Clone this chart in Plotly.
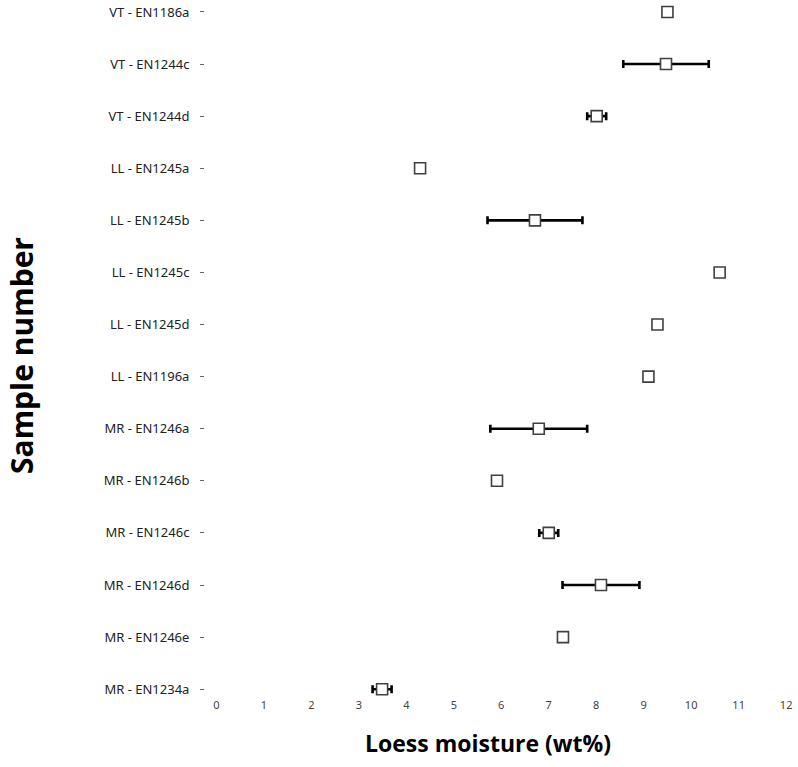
import plotly.graph_objects as go

# Samples listed top to bottom as they appear on the chart
samples = [
    "VT - EN1186a", "VT - EN1244c", "VT - EN1244d",
    "LL - EN1245a", "LL - EN1245b", "LL - EN1245c", "LL - EN1245d", "LL - EN1196a",
    "MR - EN1246a", "MR - EN1246b", "MR - EN1246c", "MR - EN1246d", "MR - EN1246e",
    "MR - EN1234a",
]
moisture = [9.5, 9.47, 8.01, 4.29, 6.71, 10.6, 9.29, 9.1, 6.79, 5.91, 7.0, 8.1, 7.3, 3.49]
moisture_err = [0, 0.9, 0.2, 0, 1.0, 0, 0, 0, 1.02, 0, 0.2, 0.81, 0, 0.2]
x_ticks = list(range(0, 13))

W, H = 798, 767
plot_left, plot_right = 205, 798
plot_top, plot_bottom = 0, 697

fig = go.Figure(
    go.Scatter(
        x=moisture,
        y=samples,
        mode="markers",
        marker=dict(symbol="square", size=11, color="white",
                    line=dict(color="#404040", width=1.6)),
        error_x=dict(type="data", array=moisture_err, visible=True,
                     color="black", thickness=2.6, width=4),
        showlegend=False,
    )
)

fig.update_xaxes(
    range=[-0.24, 12.25],
    tickvals=x_ticks,
    ticktext=[str(v) for v in x_ticks],
    showgrid=False, zeroline=False, showline=False,
    ticks="", tickfont=dict(family="Noto Sans", size=11, color="#444444"),
)
fig.update_yaxes(
    type="category",
    categoryorder="array",
    categoryarray=samples[::-1],
    range=[-0.15, 13.23],
    showgrid=False, zeroline=False, showline=False,
    ticks="outside", ticklen=4, tickcolor="#666666", tickwidth=1,
    ticklabelstandoff=8,
    tickfont=dict(family="Noto Sans", size=13, color="#222222"),
)

pw = plot_right - plot_left
ph = plot_bottom - plot_top
fig.add_annotation(
    text="<b>Loess moisture (wt%)</b>", xref="paper", yref="paper",
    x=(488 - plot_left) / pw, y=(plot_bottom - 743) / ph,
    xanchor="center", yanchor="middle", showarrow=False,
    font=dict(family="Open Sans", size=23, color="black"),
)
fig.add_annotation(
    text="<b>Sample number</b>", xref="paper", yref="paper",
    x=(22 - plot_left) / pw, y=(plot_bottom - 355) / ph,
    xanchor="center", yanchor="middle", showarrow=False, textangle=-90,
    font=dict(family="Open Sans", size=30, color="black"),
)

fig.update_layout(
    width=W, height=H,
    margin=dict(l=plot_left, r=W - plot_right, t=plot_top, b=H - plot_bottom, autoexpand=False),
    paper_bgcolor="white", plot_bgcolor="white",
)

fig.write_html("out.html")
